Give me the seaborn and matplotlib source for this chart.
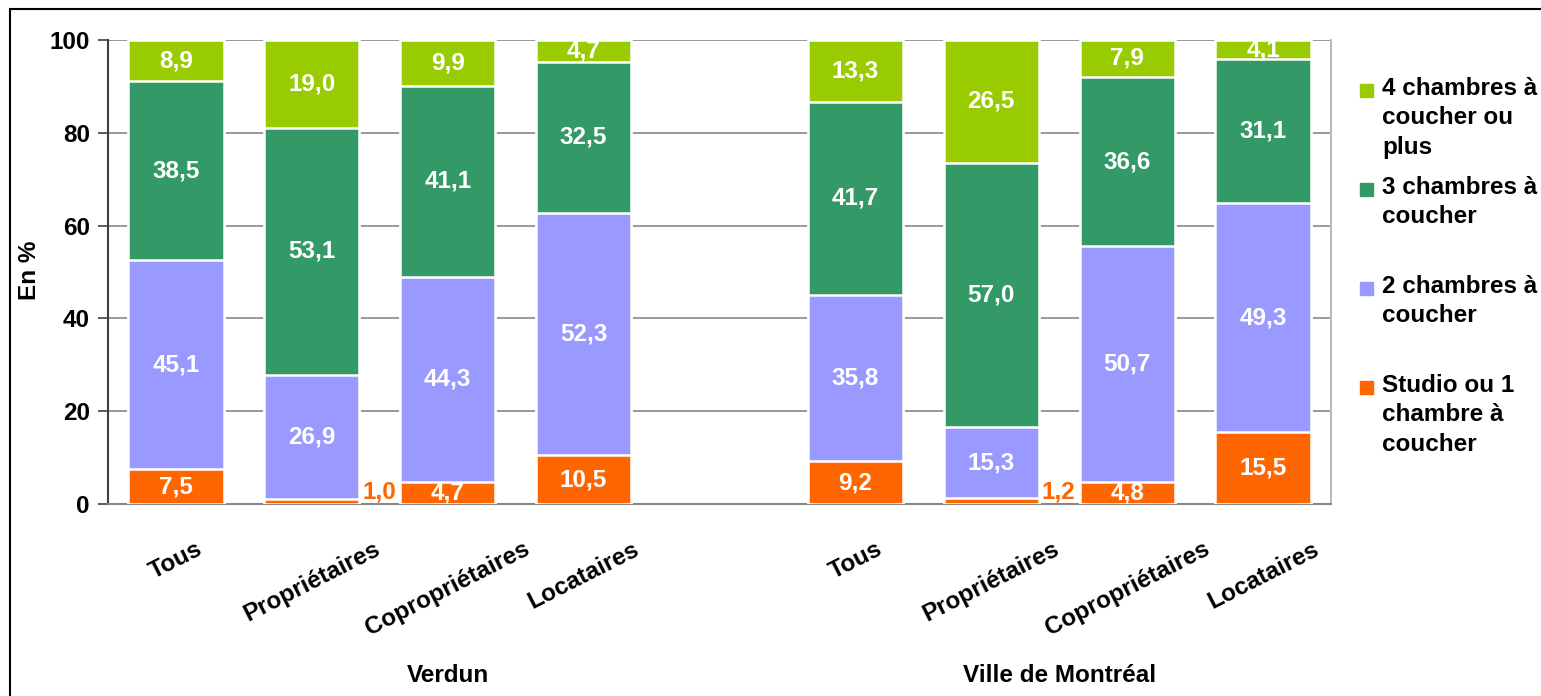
import seaborn as sns
import matplotlib.pyplot as plt
import pandas as pd
from matplotlib.patches import Rectangle

# données (%)
groups = ["Verdun", "Ville de Montréal"]
categories = ["Tous", "Propriétaires", "Copropriétaires", "Locataires"]
studio = [7.5, 1.0, 4.7, 10.5, 9.2, 1.2, 4.8, 15.5]
deux_ch = [45.1, 26.9, 44.3, 52.3, 35.8, 15.3, 50.7, 49.3]
trois_ch = [38.5, 53.1, 41.1, 32.5, 41.7, 57.0, 36.6, 31.1]
quatre_ch = [8.9, 19.0, 9.9, 4.7, 13.3, 26.5, 7.9, 4.1]
series_names = ["Studio ou 1\nchambre à\ncoucher", "2 chambres à\ncoucher",
                "3 chambres à\ncoucher", "4 chambres à\ncoucher ou\nplus"]
colors = ["#FF6600", "#9999FF", "#339966", "#99CC00"]

sns.set_theme(style="white")
plt.rcParams["font.family"] = ["Liberation Sans", "DejaVu Sans"]
plt.rcParams["font.weight"] = "bold"
plt.rcParams["text.color"] = "black"
plt.rcParams["xtick.labelcolor"] = "black"
plt.rcParams["ytick.labelcolor"] = "black"
FS = 17.5

W, H = 1541, 696
fig = plt.figure(figsize=(W / 100, H / 100), dpi=100)
ax = fig.add_axes([108 / W, 192 / H, (1331 - 108) / W, 464 / H])

# position des barres : un emplacement vide entre les deux groupes
n = len(categories)
pos = [i + (i // n) for i in range(len(studio))]
series = [studio, deux_ch, trois_ch, quatre_ch]

df = pd.DataFrame({"pos": pos})
cum = [0] * len(pos)
cums = []
for s in series:
    cum = [a + b for a, b in zip(cum, s)]
    cums.append(cum)

# barres empilées : on dessine les cumuls du plus haut au plus bas
for k in range(len(series) - 1, -1, -1):
    df["val"] = cums[k]
    sns.barplot(data=df, x="pos", y="val", native_scale=True, color=colors[k],
                saturation=1, width=0.7, errorbar=None, edgecolor="white",
                linewidth=1.8, ax=ax, zorder=3)

# étiquettes de valeurs
for k, s in enumerate(series):
    for i, v in enumerate(s):
        bottom = cums[k][i] - v
        txt = f"{v:.1f}".replace(".", ",")
        if v < 2:
            ax.text(pos[i] + 0.37, bottom + 2.5, txt, ha="left", va="center",
                    color=colors[k], fontsize=FS, fontweight="bold", zorder=5)
        else:
            ax.text(pos[i], bottom + v / 2, txt, ha="center", va="center",
                    color="white", fontsize=FS, fontweight="bold", zorder=5)

ax.set_xlim(-0.5, 8.5)
ax.set_ylim(0, 100)
ax.set_yticks(range(0, 101, 20))
ax.set_yticklabels([str(t) for t in range(0, 101, 20)], fontsize=FS, fontweight="bold")
ax.set_xticks(pos)
ax.set_xticklabels(categories * len(groups), rotation=27, ha="center", va="top",
                   fontsize=FS, fontweight="bold")
ax.tick_params(axis="x", length=0, pad=24)
ax.tick_params(axis="y", length=7, width=1.2, color="#404040", pad=6, left=True)
ax.set_xlabel("")
ax.set_ylabel("")

ax.yaxis.grid(True, color="#888888", linewidth=1.2)
ax.xaxis.grid(False)
ax.set_axisbelow(True)
ax.spines["top"].set_visible(False)
ax.spines["left"].set_color("#404040")
ax.spines["left"].set_linewidth(1.5)
ax.spines["bottom"].set_color("#888888")
ax.spines["bottom"].set_linewidth(1.5)
ax.spines["right"].set_color("#BBBBBB")
ax.spines["right"].set_linewidth(1.5)

# noms des groupes
ax.text(2, -37, groups[0], ha="center", va="center", fontsize=FS,
        fontweight="bold", clip_on=False)
ax.text(6.5, -37, groups[1], ha="center", va="center", fontsize=FS,
        fontweight="bold", clip_on=False)

fig.text(30 / W, 1 - 270 / H, "En %", rotation=90, ha="center", va="center",
         fontsize=FS, fontweight="bold")

# légende
for i, k in enumerate(range(len(series) - 1, -1, -1)):
    y_top = 80 + i * 99
    fig.patches.append(Rectangle((1360 / W, 1 - (y_top + 17) / H), 13 / W, 13 / H,
                                 transform=fig.transFigure, color=colors[k]))
    fig.text(1382 / W, 1 - (y_top - 3) / H, series_names[k], ha="left", va="top",
             fontsize=FS, fontweight="bold", linespacing=1.35)

# cadre extérieur
fig.patches.append(Rectangle((10 / W, -0.1), 1.2, 1 - 9 / H + 0.1,
                             transform=fig.transFigure, fill=False,
                             edgecolor="black", linewidth=1.5))

fig.savefig("out.png", dpi=100)
